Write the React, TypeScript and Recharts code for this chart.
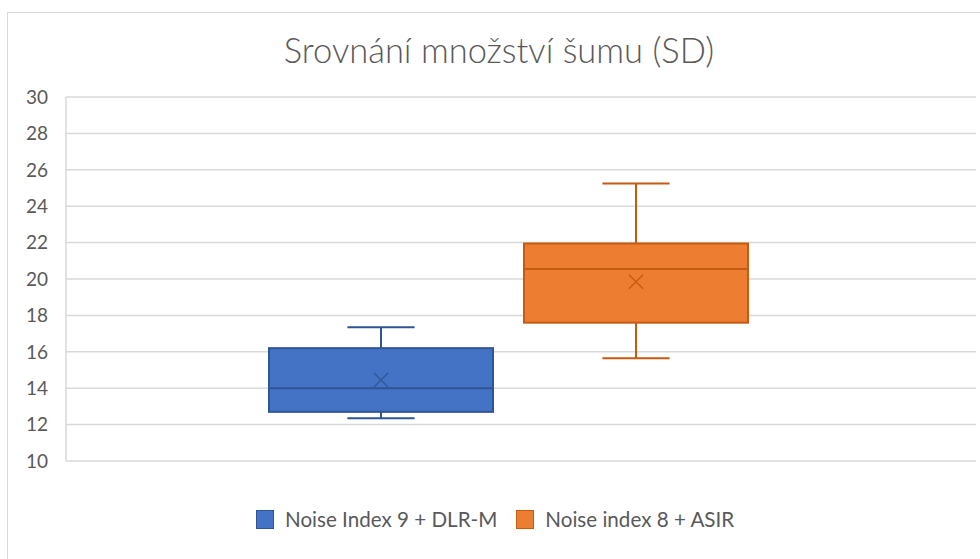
import { useEffect } from 'react'
import { ComposedChart, Bar, XAxis, YAxis, CartesianGrid, Legend } from 'recharts'

// ── Data ─────────────────────────────────────────────────────────────

const seriesNames = ['Noise Index 9 + DLR-M', 'Noise index 8 + ASIR']
const minValues = [12.35, 15.65]
const q1Values = [12.7, 17.6]
const medianValues = [14.0, 20.55]
const q3Values = [16.2, 21.95]
const maxValues = [17.35, 25.25]
const meanValues = [14.45, 19.85]
const yTicks = [10, 12, 14, 16, 18, 20, 22, 24, 26, 28, 30]

const FILLS = ['#4472C4', '#ED7D31']
const STROKES = ['#2F5597', '#C55A11']
const TEXT = '#595959'
const GRID = '#d9d9d9'
const FONT = 'Lato, "Noto Sans", sans-serif'

// one category, each series holds its box range [q1, q3]
const chartData = [
  seriesNames.reduce<Record<string, unknown>>(
    (row, _name, i) => {
      row['s' + i] = [q1Values[i], q3Values[i]]
      return row
    },
    { name: 'all' },
  ),
]

// ── Box shape: bar rect is q1..q3, rest derived from its scale ───────

function BoxShape(props: any) {
  const { x, y, width, height, series } = props
  const i = series as number
  const top = Math.min(y, y + height)
  const h = Math.abs(height)
  const perUnit = h / (q3Values[i] - q1Values[i])
  const toY = (v: number) => top + (q3Values[i] - v) * perUnit
  const cx = x + width / 2
  const capHalf = width * 0.15
  const stroke = STROKES[i]
  const my = toY(meanValues[i])
  const m = 7

  return (
    <g>
      <line x1={cx} x2={cx} y1={toY(maxValues[i])} y2={top} stroke={stroke} strokeWidth={2} />
      <line x1={cx} x2={cx} y1={top + h} y2={toY(minValues[i])} stroke={stroke} strokeWidth={2} />
      <line x1={cx - capHalf} x2={cx + capHalf} y1={toY(maxValues[i])} y2={toY(maxValues[i])} stroke={stroke} strokeWidth={2} />
      <line x1={cx - capHalf} x2={cx + capHalf} y1={toY(minValues[i])} y2={toY(minValues[i])} stroke={stroke} strokeWidth={2} />
      <rect x={x} y={top} width={width} height={h} fill={FILLS[i]} stroke={stroke} strokeWidth={2} />
      <line x1={x} x2={x + width} y1={toY(medianValues[i])} y2={toY(medianValues[i])} stroke={stroke} strokeWidth={2} />
      <line x1={cx - m} x2={cx + m} y1={my - m} y2={my + m} stroke={stroke} strokeWidth={1.3} />
      <line x1={cx - m} x2={cx + m} y1={my + m} y2={my - m} stroke={stroke} strokeWidth={1.3} />
    </g>
  )
}

// ── Legend ───────────────────────────────────────────────────────────

function BoxLegend() {
  return (
    <div style={{ height: 73, paddingTop: 48, paddingLeft: 240, boxSizing: 'border-box', display: 'flex' }}>
      {seriesNames.map((name, i) => (
        <div key={name} style={{ display: 'flex', alignItems: 'center', marginRight: 19, height: 20 }}>
          <span style={{ width: 16, height: 17, background: FILLS[i], border: `1.5px solid ${STROKES[i]}`, marginRight: 11 }} />
          <span style={{ color: TEXT, fontSize: 20.6, fontFamily: FONT }}>{name}</span>
        </div>
      ))}
    </div>
  )
}

// ── Component ────────────────────────────────────────────────────────

export default function App() {
  useEffect(() => {
    document.body.style.margin = '0'
  }, [])

  return (
    <div style={{ position: 'relative', width: 980, height: 559, background: '#fff', overflow: 'hidden' }}>
      {/* chart frame, cut at the right and bottom */}
      <div style={{
        position: 'absolute', left: 7, top: 12, width: 1000, height: 600,
        borderLeft: `1.5px solid ${GRID}`, borderTop: `1.5px solid ${GRID}`,
      }} />
      <div style={{
        position: 'absolute', left: 0, width: 998, top: 29, textAlign: 'center',
        color: TEXT, fontSize: 34.5, fontFamily: FONT, fontWeight: 300,
      }}>
        Srovnání množství šumu (SD)
      </div>
      <div style={{ position: 'absolute', left: 0, top: 0 }}>
        <ComposedChart
          width={980}
          height={559}
          data={chartData}
          margin={{ top: 97, right: 4, bottom: 25, left: 16 }}
          barSize={224}
          barGap={31}
        >
          <CartesianGrid vertical={false} stroke={GRID} strokeWidth={1.5} />
          <XAxis dataKey="name" hide padding={{ left: 0, right: 26 }} />
          <YAxis
            domain={[10, 30]}
            ticks={yTicks}
            width={50}
            interval={0}
            axisLine={{ stroke: GRID, strokeWidth: 1.5 }}
            tickLine={false}
            tickMargin={12}
            tick={{ fill: TEXT, fontSize: 19, fontFamily: FONT }}
          />
          <Legend verticalAlign="bottom" content={<BoxLegend />} />
          {seriesNames.map((name, i) => (
            <Bar
              key={name}
              dataKey={'s' + i}
              name={name}
              fill={FILLS[i]}
              isAnimationActive={false}
              shape={(p: any) => <BoxShape {...p} series={i} />}
            />
          ))}
        </ComposedChart>
      </div>
    </div>
  )
}
